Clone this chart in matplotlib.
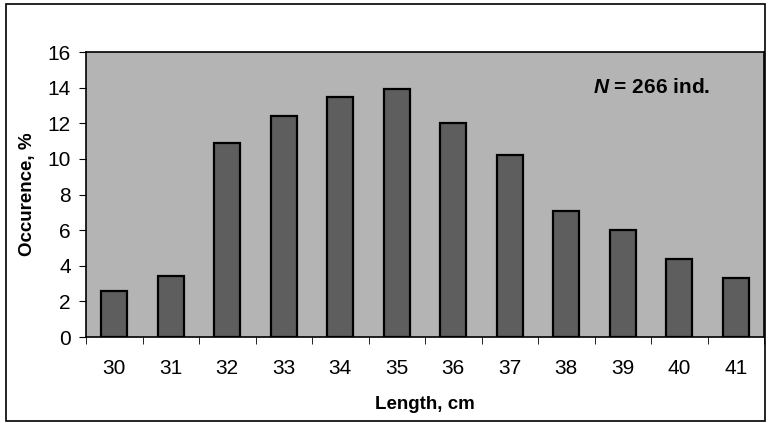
import numpy as np
import matplotlib.pyplot as plt
from matplotlib.patches import Rectangle

lengths = [30, 31, 32, 33, 34, 35, 36, 37, 38, 39, 40, 41]
occurence = [2.6, 3.4, 10.9, 12.4, 13.5, 13.9, 12.0, 10.2, 7.1, 6.0, 4.4, 3.3]
yticks = [0, 2, 4, 6, 8, 10, 12, 14, 16]

plt.rcParams['font.family'] = ['Liberation Sans', 'DejaVu Sans']
plt.rcParams['mathtext.fontset'] = 'custom'
plt.rcParams['mathtext.it'] = 'Liberation Sans:italic:bold'

fig = plt.figure(figsize=(7.68, 4.23), dpi=100)
# outer frame
fig.patches.append(Rectangle((0.008, 0.005), 0.988, 0.985, transform=fig.transFigure,
                             fill=False, edgecolor='black', linewidth=1.2))

ax = fig.add_axes([86 / 768, 1 - 337 / 423, (764 - 86) / 768, (337 - 52) / 423])
ax.set_facecolor('#b4b4b4')

x = np.arange(len(lengths))
ax.bar(x, occurence, width=0.46, color='#5e5e5e', edgecolor='black', linewidth=1.6, zorder=3)

ax.set_xlim(-0.5, len(lengths) - 0.5)
ax.set_ylim(0, 16)
ax.set_yticks(yticks)
ax.set_xticks(x)
ax.set_xticklabels([str(v) for v in lengths])
ax.set_xticks(np.arange(-0.5, len(lengths)), minor=True)
ax.tick_params(axis='x', which='major', length=0, pad=16, labelsize=15)
ax.tick_params(axis='x', which='minor', length=5, direction='out')
ax.tick_params(axis='y', length=5, direction='out', labelsize=15, pad=6)

for s in ax.spines.values():
    s.set_linewidth(1.2)

ax.set_xlabel('Length, cm', fontsize=13.5, fontweight='bold', labelpad=13)
ax.set_ylabel('Occurence, %', fontsize=13.5, fontweight='bold', labelpad=8)

ax.text(0.92, 0.874, r'$N$ = 266 ind.', transform=ax.transAxes, ha='right', va='center',
        fontsize=15, fontweight='bold')

fig.savefig('out.png', dpi=100)
